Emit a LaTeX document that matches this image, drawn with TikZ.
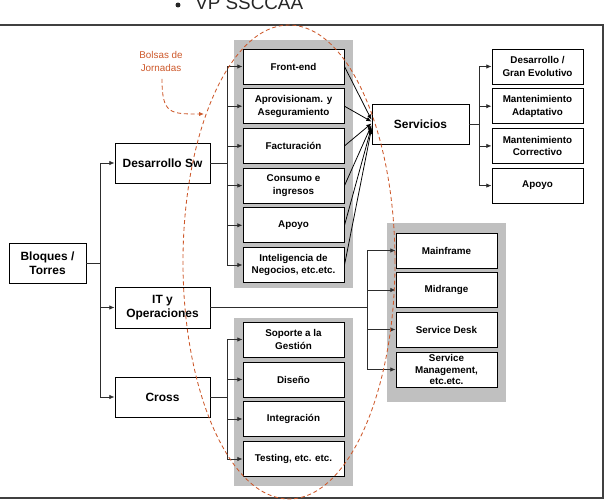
\documentclass[tikz,border=0pt]{standalone}
\usepackage{fontspec}
\setmainfont{Liberation Sans}
\usetikzlibrary{arrows.meta,calc}

\definecolor{panelgray}{RGB}{192,192,192}
\definecolor{bolsa}{RGB}{205,88,42}
\definecolor{linegray}{RGB}{45,45,45}

\begin{document}
\begin{tikzpicture}[x=0.25mm, y=-0.25mm,
    box/.style={draw=black, line width=0.7pt, fill=white, align=center, inner sep=1pt,
        minimum width=25.25mm, minimum height=8.75mm,
        font=\bfseries\fontsize{7}{9}\selectfont},
    bigbox/.style={box, minimum width=23.75mm, minimum height=10mm,
        font=\bfseries\fontsize{8.5}{10.2}\selectfont},
    link/.style={draw=linegray, line width=0.55pt},
    arr/.style={link, -{Latex[length=1.3mm, width=1.1mm]}},
    bolsas/.style={draw=bolsa, line width=0.6pt, dash pattern=on 1mm off 0.7mm}]

\useasboundingbox (0,0) rectangle (607,502);

% Title line
\node[anchor=base west, inner sep=0pt, font=\fontsize{13.4}{16}\selectfont, text=black!85]
    (title) at (195,9.5) {VP SSCCAA};
\fill[black!85] ($(title.base west)+(-17,-4.5)$) circle (0.62mm);

% Frame
\draw[line width=1pt, draw=black!75] (0,25) -- (603,25) -- (603,498) -- (0,498);

% Gray panels
\fill[panelgray] (234,40) rectangle (353,288);
\fill[panelgray] (234,318) rectangle (353,486);
\fill[panelgray] (387,223) rectangle (506,402);

% Root and first level
\node[bigbox, minimum width=19.25mm] (root) at (47.5,263) {Bloques /\\Torres};
\node[bigbox] (dsw) at (162.5,163) {Desarrollo Sw};
\node[bigbox, minimum height=10.25mm] (ito) at (162.5,307.5) {IT y\\Operaciones};
\node[bigbox] (cross) at (162.5,397) {Cross};
\node[bigbox, minimum width=24.25mm] (serv) at (420.5,124) {Servicios};

% Desarrollo Sw blocks
\node[box] (fe)   at (293.5,66.5)  {Front-end};
\node[box] (apr)  at (293.5,106.2) {Aprovisionam. y\\Aseguramiento};
\node[box] (fac)  at (293.5,145.9) {Facturación};
\node[box] (con)  at (293.5,185.6) {Consumo e\\ingresos};
\node[box] (apo)  at (293.5,225.3) {Apoyo};
\node[box] (inte) at (293.5,265)   {Inteligencia de\\Negocios, etc.etc.};

% Servicios blocks
\node[box, minimum width=22.75mm] (dge) at (537.5,66.5)  {Desarrollo /\\Gran Evolutivo};
\node[box, minimum width=22.75mm] (mad) at (537.5,106.2) {Mantenimiento\\Adaptativo};
\node[box, minimum width=22.75mm] (mco) at (537.5,145.9) {Mantenimiento\\Correctivo};
\node[box, minimum width=22.75mm] (sap) at (537.5,185.6) {Apoyo};

% IT y Operaciones blocks
\node[box] (mfr) at (446.5,250.5) {Mainframe};
\node[box] (mid) at (446.5,290)   {Midrange};
\node[box] (sdk) at (446.5,329.5) {Service Desk};
\node[box, font=\bfseries\fontsize{7}{8.3}\selectfont] (smg) at (446.5,369.5) {Service\\Management,\\etc.etc.};

% Cross blocks
\node[box] (sop) at (293.5,339.5) {Soporte a la\\Gestión};
\node[box] (dis) at (293.5,379.5) {Diseño};
\node[box] (itg) at (293.5,419)   {Integración};
\node[box] (tst) at (293.5,459)   {Testing, etc. etc.};

% Tree from the root
\coordinate (rj) at (100,263);
\draw[link] (root.east) -- (rj);
\draw[link] (rj |- dsw.west) -- (rj |- cross.west);
\foreach \n in {dsw,ito,cross} \draw[arr] (rj |- \n.west) -- (\n.west);

% Desarrollo Sw fork
\coordinate (dj) at (227,163);
\draw[link] (dsw.east) -- (dj);
\draw[link] (dj |- fe.west) -- (dj |- inte.west);
\foreach \n in {fe,apr,fac,con,apo,inte} \draw[arr] (dj |- \n.west) -- (\n.west);

% All blocks feed Servicios
\foreach \n [count=\i] in {fe,apr,fac,con,apo,inte}
    \draw[arr, draw=black] (\n.east) -- ($(serv.west)+(0,-6+\i*1.8)$);

% Servicios fork
\coordinate (sj) at (479,124);
\draw[link] (serv.east) -- (sj);
\draw[link] (sj |- dge.west) -- (sj |- sap.west);
\foreach \n in {dge,mad,mco,sap} \draw[arr] (sj |- \n.west) -- (\n.west);

% IT y Operaciones fork
\coordinate (ij) at (367,307.5);
\draw[link] (ito.east) -- (ij);
\draw[link] (ij |- mfr.west) -- (ij |- smg.west);
\foreach \n in {mfr,mid,sdk,smg} \draw[arr] (ij |- \n.west) -- (\n.west);

% Cross fork
\coordinate (cj) at (227,397);
\draw[link] (cross.east) -- (cj);
\draw[link] (cj |- sop.west) -- (cj |- tst.west);
\foreach \n in {sop,dis,itg,tst} \draw[arr] (cj |- \n.west) -- (\n.west);

% Bolsas de Jornadas
\draw[bolsas] (289,262) ellipse [x radius=26.5mm, y radius=59.25mm];
\node[align=center, text=bolsa, font=\fontsize{7}{9.2}\selectfont, inner sep=0pt]
    (bolsaslbl) at (161,61.5) {Bolsas de\\Jornadas};
\coordinate (bolsastip) at (204,114);
\draw[bolsas, -{Latex[length=1.2mm, width=1mm]}]
    ($(bolsaslbl.south)+(1,7)$) .. controls (162,114) and (170,114) .. (bolsastip);

\end{tikzpicture}
\end{document}
